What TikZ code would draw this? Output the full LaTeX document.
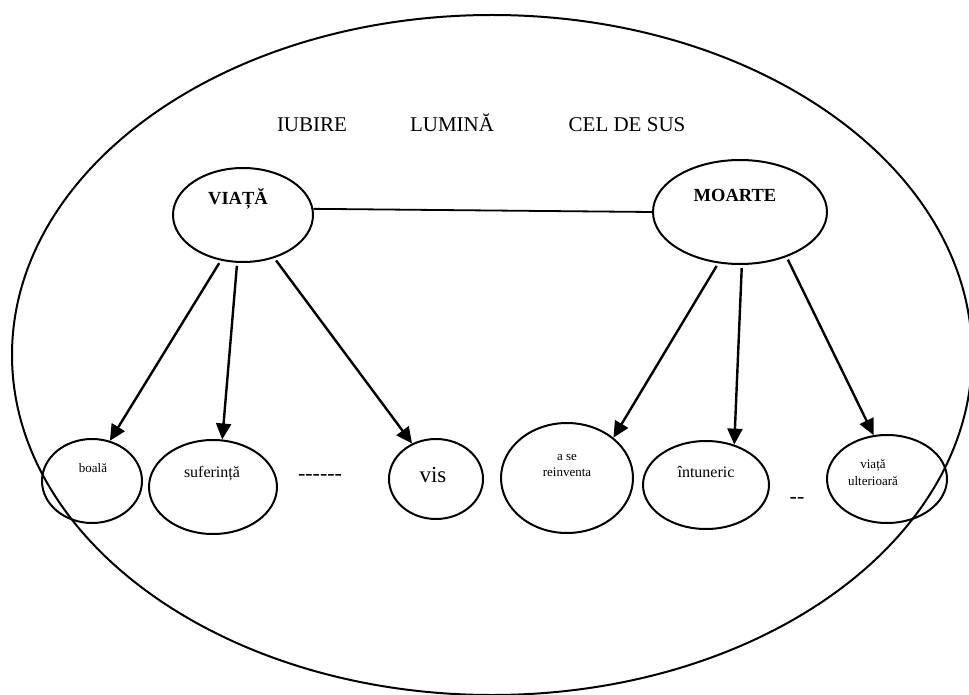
\documentclass[tikz,border=0pt]{standalone}
\usepackage{fontspec}
\setmainfont{Liberation Serif}
\usetikzlibrary{shapes.geometric,arrows.meta}

\tikzset{
  blob/.style={draw, ellipse, line width=2pt, inner sep=0pt},
  tip/.style={line width=2.4pt, -{Triangle[length=16pt,width=15pt]}, shorten <=3pt},
  word/.style={inner sep=0pt, align=center, anchor=base}
}

\begin{document}
\begin{tikzpicture}[x=1pt, y=-1pt]
  \useasboundingbox (0,0) rectangle (969,695);
  \draw[line width=2pt] (492,355) ellipse [x radius=480, y radius=340]; % big ellipse

  % top words
  \node[word, font=\fontsize{21}{25}\selectfont] (iubire) at (312,132) {IUBIRE};
  \node[word, font=\fontsize{21}{25}\selectfont] (lumina) at (452,132) {LUMINĂ};
  \node[word, font=\fontsize{21}{25}\selectfont] (celdesus) at (627,132) {CEL DE SUS};

  % main ellipses
  \node[blob, minimum width=140, minimum height=94] (viata) at (243,215) {};
  \node[word, font=\fontsize{18.5}{22}\selectfont\bfseries] (viatatxt) at (238,205) {VIAȚĂ};
  \node[blob, minimum width=174, minimum height=104] (moarte) at (740,212) {};
  \node[word, font=\fontsize{18.5}{22}\selectfont\bfseries] (moartetxt) at (735,202) {MOARTE};
  \draw[line width=1.8pt] (viata.5) -- (moarte.west);

  % lower ellipses
  \node[blob, minimum width=100, minimum height=84] (boala) at (92,481) {};
  \node[word, font=\fontsize{13}{16}\selectfont] (boalatxt) at (93,472) {boală};
  \node[blob, minimum width=128, minimum height=94] (suferinta) at (213,487) {};
  \node[word, font=\fontsize{16}{19}\selectfont] (suferintatxt) at (212,477) {suferință};
  \node[word, font=\fontsize{22}{26}\selectfont] (dash1) at (320,480) {-{}-{}-{}-{}-{}-};
  \node[blob, minimum width=94, minimum height=80] (vis) at (436,479) {};
  \node[word, font=\fontsize{23}{27}\selectfont] (vistxt) at (433,482) {vis};

  \node[blob, minimum width=132, minimum height=110] (reinv) at (567,478) {};
  \node[word, font=\fontsize{13}{16}\selectfont] (reinvtxt) at (567,476) {a se\\reinventa};
  \node[blob, minimum width=126, minimum height=88] (intuneric) at (706,485) {};
  \node[word, font=\fontsize{16}{19}\selectfont] (intunerictxt) at (706,477) {întuneric};
  \node[word, font=\fontsize{22}{26}\selectfont] (dash2) at (797,503) {-{}-};
  \node[blob, minimum width=120, minimum height=88] (ulterior) at (887,479) {};
  \node[word, font=\fontsize{13}{16.5}\selectfont] (ulteriortxt) at (873,485) {viață\\ulterioară};

  % arrows
  \draw[tip] (viata.244) -- (boala.66);
  \draw[tip] (viata.263) -- (suferinta.79);
  \draw[tip] (viata.306) -- (vis.124);
  \draw[tip] (moarte.247) -- (reinv.41);
  \draw[tip] (moarte.272) -- (intuneric.55);
  \draw[tip] (moarte.316) -- (ulterior.107);
\end{tikzpicture}
\end{document}
